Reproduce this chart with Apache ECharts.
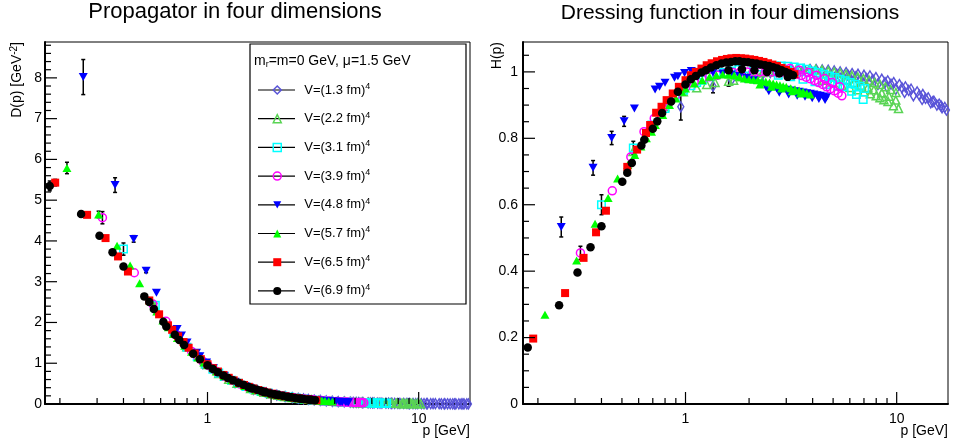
<!DOCTYPE html>
<html><head><meta charset="utf-8">
<script src="https://cdn.jsdelivr.net/npm/echarts@6/dist/echarts.min.js"></script>
<style>html,body{margin:0;padding:0;background:#fff}#c{width:954px;height:448px}</style>
</head><body><div id="c"></div>
<script>
// ---------------- data ----------------
// momenta p [GeV], propagator D(p) [GeV^-2], dressing H(p); errors eD/eH for the first points
const p_13 = [0.95,1.35,1.65,1.90,2.13,2.33,2.52,2.69,2.85,3.00,3.20,3.42,3.65,3.90,4.16,4.44,4.74,5.06,5.40,5.76,6.15,6.56,7.00,7.47,7.97,8.50,9.07,9.68,10.3,11.0,11.7,12.5,13.3,14.1,15.0,15.9,16.9,
  4.90,5.45,6.05,6.70,7.40,8.15,9.0,9.9,10.9,12.0,13.2,14.5,15.5,16.4,17.2,
  5.2,5.9,6.4,7.2,7.7,8.8,9.4,10.6,11.4,12.8,13.7,14.8,16.2];
const H_13 = [0.895,0.957,0.975,0.985,0.990,0.995,0.998,1.000,1.002,1.004,1.005,1.006,1.007,1.007,1.007,1.006,1.005,1.003,1.000,0.998,0.995,0.993,0.990,0.988,0.983,0.978,0.973,0.968,0.962,0.955,0.948,0.940,0.932,0.922,0.912,0.903,0.893,
  0.985,0.982,0.978,0.973,0.968,0.962,0.955,0.947,0.938,0.928,0.917,0.907,0.900,0.892,0.885,
  0.993,0.989,0.985,0.980,0.977,0.968,0.963,0.952,0.944,0.930,0.920,0.910,0.898];
const D_13 = [0.99,0.525,0.358,0.273,0.218,0.183,0.157,0.138,0.123,0.112,0.098,0.086,0.076,0.066,0.058,0.051,0.045,0.039,0.034,0.030,0.026,0.023,0.020,0.018,0.0155,0.0135,0.0118,0.0103,0.0091,0.0079,0.0069,0.0060,0.0053,0.0046,0.0041,0.0036,0.0031,
  0.041,0.033,0.027,0.0217,0.0177,0.0145,0.0118,0.0097,0.0079,0.0064,0.0053,0.0043,0.0037,0.0033,0.0030,
  0.0367,0.0284,0.024,0.0189,0.0165,0.0125,0.0109,0.0085,0.0073,0.0057,0.0049,0.0042,0.0034];
const eD_13 = [0.05, 0.02];
const eH_13 = [0.04, 0.02];

const p_22 = [0.564,0.798,0.977,1.13,1.26,1.38,1.60,1.69,1.85,2.00,2.15,2.32,2.50,2.70,2.90,3.12,3.35,3.60,3.86,4.14,4.43,4.74,5.06,5.40,5.76,6.14,6.54,6.96,7.40,7.86,8.34,8.84,9.37,9.92,
  4.50,5.00,5.50,6.00,6.50,7.00,7.50,8.00,8.33,8.70,9.10,9.65,10.2,
  4.8,5.3,5.8,6.3,6.8,7.3,7.8,8.5,9.2,9.9];
const H_22 = [0.760,0.895,0.940,0.952,0.962,0.968,0.972,0.975,0.985,0.990,0.995,0.998,1.000,1.003,1.005,1.007,1.008,1.009,1.009,1.008,1.006,1.003,1.000,0.997,0.993,0.989,0.985,0.980,0.975,0.968,0.962,0.955,0.947,0.938,
  0.975,0.968,0.960,0.953,0.946,0.940,0.934,0.928,0.922,0.916,0.911,0.898,0.890,
  0.990,0.984,0.976,0.968,0.960,0.953,0.946,0.937,0.927,0.915];
const D_22 = [2.39,1.405,0.985,0.746,0.606,0.508,0.380,0.341,0.288,0.248,0.215,0.185,0.160,0.138,0.120,0.103,0.090,0.078,0.068,0.059,0.051,0.045,0.039,0.034,0.030,0.026,0.023,0.020,0.018,0.016,0.014,0.012,0.011,0.0095,
  0.048,0.039,0.032,0.026,0.022,0.019,0.017,0.0145,0.0133,0.0121,0.011,0.0096,0.0086,
  0.043,0.035,0.029,0.0244,0.0208,0.0179,0.0155,0.013,0.011,0.0093];
const eD_22 = [];
const eH_22 = [0,0,0,0,0,0,0.015];

const p_31 = [0.400,0.566,0.693,0.800,0.894,0.980,1.06,1.13,1.20,1.30,1.40,1.52,1.65,1.79,1.94,2.10,2.27,2.45,2.64,2.84,3.05,3.27,3.50,3.74,3.99,4.25,4.52,4.80,5.09,5.39,5.70,6.02,6.35,6.70,7.05,
  2.75,3.15,3.60,4.10,4.65,5.25,5.57,6.12,6.45,6.94];
const H_31 = [0.600,0.771,0.840,0.890,0.925,0.945,0.958,0.968,0.975,0.985,0.992,0.998,1.003,1.007,1.010,1.013,1.015,1.017,1.018,1.018,1.017,1.015,1.012,1.008,1.003,0.998,0.993,0.988,0.983,0.978,0.973,0.968,0.963,0.957,0.950,
  0.990,0.985,0.978,0.970,0.962,0.957,0.955,0.942,0.932,0.917];
const D_31 = [3.80,2.42,1.75,1.39,1.157,0.984,0.853,0.758,0.677,0.583,0.506,0.432,0.368,0.314,0.268,0.230,0.197,0.169,0.146,0.126,0.109,0.095,0.083,0.072,0.063,0.055,0.049,0.043,0.038,0.034,0.030,0.027,0.024,0.021,0.019,
  0.131,0.099,0.075,0.058,0.044,0.035,0.031,0.025,0.022,0.019];
const eD_31 = [0.15, 0.05];
const eH_31 = [0.03, 0.02];

const p_39 = [0.318,0.450,0.551,0.636,0.711,0.779,0.841,0.900,0.954,1.005,1.10,1.20,1.30,1.42,1.55,1.68,1.82,1.96,2.10,2.25,2.40,2.56,2.72,2.88,3.04,3.20,3.37,3.54,3.72,3.90,4.08,4.27,4.46,4.66,4.86,5.07,5.28,5.50,
  3.12,3.46,3.81,4.17,4.56,4.96,5.38];
const H_39 = [0.455,0.642,0.744,0.820,0.860,0.890,0.910,0.930,0.945,0.955,0.968,0.978,0.985,0.990,0.995,0.998,1.000,1.000,1.000,1.000,1.000,1.000,1.000,1.000,1.000,0.997,0.993,0.989,0.984,0.979,0.974,0.968,0.962,0.955,0.949,0.943,0.936,0.928,
  1.010,1.005,0.998,0.990,0.980,0.968,0.955];
const D_39 = [4.57,3.22,2.45,2.03,1.70,1.47,1.29,1.15,1.04,0.945,0.800,0.679,0.583,0.491,0.414,0.354,0.302,0.260,0.227,0.198,0.174,0.153,0.135,0.121,0.108,0.097,0.087,0.079,0.071,0.064,0.059,0.053,0.048,0.044,0.040,0.037,0.034,0.031,
  0.104,0.084,0.069,0.057,0.047,0.039,0.033];
const eD_39 = [0.15];
const eH_39 = [0.02];

const p_48 = [0.258,0.365,0.447,0.512,0.573,0.718,0.753,0.800,0.887,0.920,0.990,1.065,1.20,1.35,1.50,1.65,1.80,1.95,2.10,2.25,2.40,2.55,2.70,2.85,3.00,3.15,3.30,3.45,3.60,3.75,3.90,4.05,4.20,4.35,4.50,4.65,
  2.48,2.78,3.08,3.38,3.68,3.98,4.28,4.58];
const H_48 = [0.533,0.711,0.801,0.851,0.890,0.947,0.955,0.967,0.982,0.987,0.997,1.003,0.998,0.998,0.995,0.992,0.988,0.982,0.975,0.965,0.955,0.952,0.950,0.948,0.946,0.944,0.942,0.940,0.938,0.936,0.934,0.932,0.930,0.928,0.926,0.924,
  0.942,0.937,0.932,0.928,0.925,0.921,0.918,0.915];
const D_48 = [8.02,5.37,4.05,3.27,2.73,1.84,1.68,1.51,1.26,1.17,1.02,0.885,0.693,0.548,0.442,0.364,0.305,0.258,0.221,0.191,0.166,0.146,0.130,0.117,0.105,0.095,0.086,0.079,0.072,0.066,0.061,0.057,0.053,0.049,0.046,0.043,
  0.153,0.121,0.098,0.081,0.068,0.058,0.050,0.044];
const eD_48 = [0.43, 0.18, 0.08, 0.05];
const eH_48 = [0.03, 0.022, 0.02, 0.015];

const p_57 = [0.216,0.305,0.373,0.430,0.477,0.533,0.575,0.615,0.653,0.690,0.720,0.780,0.840,0.900,0.960,1.00,1.10,1.20,1.30,1.40,1.50,1.60,1.70,1.80,1.90,2.00,2.10,2.20,2.30,2.40,2.50,2.60,2.70,2.80,2.90,3.00,3.15,3.30,3.45,3.60,3.75,3.90,
  2.25,2.55,2.85,3.20,3.50];
const H_57 = [0.269,0.432,0.543,0.620,0.679,0.720,0.750,0.775,0.800,0.820,0.840,0.870,0.900,0.920,0.940,0.950,0.965,0.975,0.985,0.990,0.992,0.992,0.990,0.985,0.980,0.978,0.976,0.975,0.972,0.970,0.968,0.965,0.962,0.960,0.957,0.955,0.951,0.948,0.944,0.940,0.936,0.932,
  0.962,0.955,0.950,0.942,0.935];
const D_57 = [5.79,4.65,3.88,3.40,2.96,2.54,2.27,2.05,1.88,1.72,1.62,1.43,1.28,1.14,1.02,0.95,0.80,0.68,0.58,0.505,0.44,0.388,0.342,0.304,0.272,0.245,0.221,0.201,0.184,0.168,0.155,0.143,0.132,0.122,0.114,0.106,0.096,0.087,0.079,0.073,0.067,0.061,
  0.190,0.147,0.117,0.092,0.076];
const eD_57 = [0.14, 0.08];
const eH_57 = [];

const p_65 = [0.190,0.269,0.329,0.377,0.420,0.530,0.590,0.650,0.680,0.726,0.770,0.814,0.870,0.930,1.00,1.06,1.12,1.19,1.26,1.33,1.41,1.49,1.57,1.65,1.74,1.83,1.92,2.02,2.12,2.23,2.34,2.46,2.58,2.71,2.85,2.99,3.14,3.28];
const H_65 = [0.197,0.334,0.440,0.517,0.582,0.714,0.766,0.816,0.840,0.877,0.895,0.915,0.935,0.955,0.975,0.990,1.000,1.010,1.020,1.026,1.032,1.036,1.039,1.041,1.042,1.041,1.040,1.038,1.036,1.033,1.030,1.026,1.022,1.018,1.012,1.006,1.000,0.993];
const D_65 = [5.43,4.64,4.07,3.62,3.25,2.54,2.20,1.93,1.82,1.66,1.52,1.38,1.24,1.10,0.975,0.880,0.797,0.713,0.643,0.580,0.519,0.467,0.421,0.382,0.344,0.311,0.282,0.254,0.230,0.208,0.188,0.170,0.153,0.139,0.125,0.113,0.101,0.092];
const eD_65 = [0.08];
const eH_65 = [];

const p_69 = [0.179,0.252,0.308,0.355,0.400,0.502,0.530,0.557,0.618,0.638,0.700,0.735,0.775,0.855,0.920,1.00,1.06,1.12,1.19,1.25,1.32,1.40,1.48,1.56,1.64,1.72,1.80,1.89,1.98,2.07,2.17,2.27,2.38,2.49,2.60,2.72,2.85,2.98,3.10,3.23,
  1.60,1.85,2.12,2.43,2.78,3.05];
const H_69 = [0.170,0.297,0.396,0.472,0.535,0.669,0.696,0.726,0.778,0.796,0.829,0.851,0.876,0.911,0.940,0.962,0.978,0.988,0.998,1.005,1.013,1.020,1.025,1.028,1.030,1.032,1.032,1.030,1.029,1.027,1.025,1.022,1.020,1.018,1.014,1.010,1.005,1.000,0.995,0.990,
  1.005,1.008,1.005,1.000,0.995,0.985];
const D_69 = [5.35,4.66,4.13,3.72,3.37,2.64,2.50,2.33,2.02,1.90,1.70,1.57,1.45,1.23,1.10,0.95,0.86,0.78,0.70,0.64,0.58,0.52,0.47,0.42,0.38,0.35,0.32,0.29,0.26,0.24,0.22,0.20,0.18,0.165,0.150,0.137,0.124,0.113,0.104,0.095,
  0.39,0.295,0.225,0.17,0.13,0.106];
const eD_69 = [0.12];
const eH_69 = [];

// axis ranges and ticks
const X_MIN = 0.17, X_MAX = 17.5;
const D_MAX = 8.88, H_MAX = 1.09;
const xMajorTicks = [1, 10];
const xTickLabels = ['1', '10'];
const xMinorTicks = [0.2,0.3,0.4,0.5,0.6,0.7,0.8,0.9,2,3,4,5,6,7,8,9];
const dMajorTicks = [0,1,2,3,4,5,6,7,8];
const dTickLabels = ['0','1','2','3','4','5','6','7','8'];
const hMajorTicks = [0,0.2,0.4,0.6,0.8,1.0];
const hTickLabels = ['0','0.2','0.4','0.6','0.8','1'];

// ---------------- chart ----------------
const FONT = '"Liberation Sans", Arial, Helvetica, sans-serif';
const DOWN_TRI = 'path://M0,0L10,0L5,9Z';
const sets = [
  {name:'V=(1.3 fm)^4', p:p_13, D:D_13, H:H_13, eD:eD_13, eH:eH_13, st:{color:'#5954d8', symbol:'diamond', size:[6,10], open:true}},
  {name:'V=(2.2 fm)^4', p:p_22, D:D_22, H:H_22, eD:eD_22, eH:eH_22, st:{color:'#59d454', symbol:'triangle', size:[8,8], open:true}},
  {name:'V=(3.1 fm)^4', p:p_31, D:D_31, H:H_31, eD:eD_31, eH:eH_31, st:{color:'#00ffff', symbol:'rect', size:7.5, open:true}},
  {name:'V=(3.9 fm)^4', p:p_39, D:D_39, H:H_39, eD:eD_39, eH:eH_39, st:{color:'#ff00ff', symbol:'circle', size:8, open:true}},
  {name:'V=(4.8 fm)^4', p:p_48, D:D_48, H:H_48, eD:eD_48, eH:eH_48, st:{color:'#0000ff', symbol:'triangle', size:[9,8], rotate:180, icon:DOWN_TRI}},
  {name:'V=(5.7 fm)^4', p:p_57, D:D_57, H:H_57, eD:eD_57, eH:eH_57, st:{color:'#00ff00', symbol:'triangle', size:[9,8]}},
  {name:'V=(6.5 fm)^4', p:p_65, D:D_65, H:H_65, eD:eD_65, eH:eH_65, st:{color:'#ff0000', symbol:'rect', size:8}},
  {name:'V=(6.9 fm)^4', p:p_69, D:D_69, H:H_69, eD:eD_69, eH:eH_69, st:{color:'#000000', symbol:'circle', size:8.5}}
];

function minorBetween(majors, step, n, maxV) {
  const out = [];
  majors.forEach(m => { for (let k = 1; k < n; k++) { const v = +(m + k * step).toFixed(4); if (v < maxV) out.push(v); } });
  return out;
}
const dMinorTicks = minorBetween(dMajorTicks, 0.2, 5, D_MAX);
const hMinorTicks = minorBetween(hMajorTicks, 0.05, 4, H_MAX);

function tickData(yMaj, yMin) {
  const d = [];
  xMajorTicks.forEach(v => d.push([v, 0, 0]));
  xMinorTicks.forEach(v => d.push([v, 0, 1]));
  yMaj.forEach(v => d.push([X_MIN, v, 2]));
  yMin.forEach(v => d.push([X_MIN, v, 3]));
  return d;
}
function renderTick(params, api) {
  const x = api.value(0), y = api.value(1), k = api.value(2);
  const pt = api.coord([x, y]);
  let shape;
  if (k < 2) { const L = k === 0 ? 12 : 6; shape = {x1: pt[0], y1: pt[1], x2: pt[0], y2: pt[1] - L}; }
  else { const L = k === 2 ? 12 : 6; shape = {x1: pt[0], y1: pt[1], x2: pt[0] + L, y2: pt[1]}; }
  return {type: 'line', shape, style: {stroke: '#000', lineWidth: 1.2}};
}
function renderErr(params, api) {
  const x = api.value(0), y = api.value(1), e = api.value(2);
  const a = api.coord([x, y + e]), b = api.coord([x, y - e]);
  const c = 2, st = {stroke: '#000', lineWidth: 1.5};
  return {type: 'group', children: [
    {type: 'line', shape: {x1: a[0], y1: a[1], x2: b[0], y2: b[1]}, style: st},
    {type: 'line', shape: {x1: a[0] - c, y1: a[1], x2: a[0] + c, y2: a[1]}, style: st},
    {type: 'line', shape: {x1: b[0] - c, y1: b[1], x2: b[0] + c, y2: b[1]}, style: st}
  ]};
}

const errD = [], errH = [];
sets.forEach(s => {
  s.eD.forEach((e, i) => { if (e > 0) errD.push([s.p[i], s.D[i], e]); });
  s.eH.forEach((e, i) => { if (e > 0) errH.push([s.p[i], s.H[i], e]); });
});

function markStyle(st) {
  return st.open ? {color: 'rgba(255,255,255,0)', borderColor: st.color, borderWidth: 1.5, opacity: 1}
                 : {color: st.color, opacity: 1};
}
const series = [];
[errD, errH].forEach((d, g) => series.push({type: 'custom', xAxisIndex: g, yAxisIndex: g, z: 2, silent: true,
  renderItem: renderErr, data: d, clip: false}));
sets.forEach(s => {
  [0, 1].forEach(g => {
    const ys = g === 0 ? s.D : s.H;
    series.push({
      type: 'scatter', name: s.name, xAxisIndex: g, yAxisIndex: g, z: 3,
      symbol: s.st.symbol, symbolSize: s.st.size, symbolRotate: s.st.rotate || 0,
      itemStyle: markStyle(s.st),
      emphasis: {disabled: true}, silent: true,
      data: s.p.map((v, i) => [v, ys[i]])
    });
  });
});
series.push({type: 'custom', xAxisIndex: 0, yAxisIndex: 0, z: 5, silent: true, renderItem: renderTick, data: tickData(dMajorTicks, dMinorTicks), clip: false});
series.push({type: 'custom', xAxisIndex: 1, yAxisIndex: 1, z: 5, silent: true, renderItem: renderTick, data: tickData(hMajorTicks, hMinorTicks), clip: false});

function near(v, arr) { return arr.findIndex(t => Math.abs(t - v) < 1e-6 * Math.max(1, Math.abs(t))); }
function xAxisCfg(g) {
  return {type: 'log', logBase: 10, gridIndex: g, min: X_MIN, max: X_MAX,
    axisLine: {show: true, onZero: false, lineStyle: {color: '#000', width: 2}},
    axisTick: {show: false}, minorTick: {show: false}, splitLine: {show: false},
    axisLabel: {show: true, interval: 0, fontSize: 14, fontFamily: FONT, color: '#000', margin: 8,
      formatter: v => { const i = near(v, xMajorTicks); return i >= 0 ? xTickLabels[i] : ''; }}};
}
function yAxisCfg(g, maxV, majors, labels, margin) {
  return {type: 'value', gridIndex: g, min: 0, max: maxV, interval: g === 0 ? 1 : 0.2,
    axisLine: {show: true, onZero: false, lineStyle: {color: '#000', width: 2}},
    axisTick: {show: false}, minorTick: {show: false}, splitLine: {show: false},
    axisLabel: {show: true, fontSize: 14, fontFamily: FONT, color: '#000', margin: margin,
      formatter: v => { const i = near(v, majors); return i >= 0 ? labels[i] : ''; }}};
}

const legendY0 = 90, legendStep = 28.7;
const graphics = [
  {type: 'text', x: 235, y: 12, style: {text: 'Propagator in four dimensions', fontSize: 22, fontFamily: FONT, fill: '#000', align: 'center', verticalAlign: 'middle', textAlign: 'center', textVerticalAlign: 'middle'}},
  {type: 'text', x: 730, y: 13, style: {text: 'Dressing function in four dimensions', fontSize: 21, fontFamily: FONT, fill: '#000', align: 'center', verticalAlign: 'middle', textAlign: 'center', textVerticalAlign: 'middle'}},
  {type: 'text', x: 17, y: 42, rotation: Math.PI / 2, style: {text: '{t|D(p) [GeV}{s|-2}{t|]}', align: 'right', verticalAlign: 'middle', textAlign: 'right', textVerticalAlign: 'middle',
    rich: {t: {fontSize: 14, fontFamily: FONT, fill: '#000', lineHeight: 16}, s: {fontSize: 10, fontFamily: FONT, fill: '#000', lineHeight: 8, verticalAlign: 'top'}}}},
  {type: 'text', x: 497, y: 42, rotation: Math.PI / 2, style: {text: 'H(p)', fontSize: 14, fontFamily: FONT, fill: '#000', align: 'right', verticalAlign: 'middle', textAlign: 'right', textVerticalAlign: 'middle'}},
  {type: 'text', x: 470, y: 431, style: {text: 'p [GeV]', fontSize: 14, fontFamily: FONT, fill: '#000', align: 'right', verticalAlign: 'middle', textAlign: 'right', textVerticalAlign: 'middle'}},
  {type: 'text', x: 948, y: 431, style: {text: 'p [GeV]', fontSize: 14, fontFamily: FONT, fill: '#000', align: 'right', verticalAlign: 'middle', textAlign: 'right', textVerticalAlign: 'middle'}},
  {type: 'rect', z: 1, shape: {x: 250, y: 44, width: 216, height: 260}, style: {fill: 'none', stroke: '#000', lineWidth: 1.2}},
  {type: 'text', x: 254, y: 61, style: {text: '{t|m}{b|r}{t|=m=0 GeV, μ=1.5 GeV}', align: 'left', verticalAlign: 'middle', textAlign: 'left', textVerticalAlign: 'middle',
    rich: {t: {fontSize: 14, fontFamily: FONT, fill: '#000', lineHeight: 16}, b: {fontSize: 9, fontFamily: FONT, fill: '#000', lineHeight: 8, verticalAlign: 'bottom'}}}}
];
sets.forEach((s, i) => graphics.push({type: 'line', z: 1, shape: {x1: 258, y1: legendY0 + i * legendStep, x2: 295, y2: legendY0 + i * legendStep}, style: {stroke: '#000', lineWidth: 1.2}}));

const chart = echarts.init(document.getElementById('c'), null, {renderer: 'canvas'});
chart.setOption({
  animation: false,
  backgroundColor: '#fff',
  grid: [
    {left: 45, top: 42, width: 425, height: 362, show: true, borderColor: '#000', borderWidth: 1, backgroundColor: 'transparent', containLabel: false, outerBoundsMode: 'none'},
    {left: 523, top: 42, width: 425, height: 362, show: true, borderColor: '#000', borderWidth: 1, backgroundColor: 'transparent', containLabel: false, outerBoundsMode: 'none'}
  ],
  xAxis: [xAxisCfg(0), xAxisCfg(1)],
  yAxis: [yAxisCfg(0, D_MAX, dMajorTicks, dTickLabels, 3), yAxisCfg(1, H_MAX, hMajorTicks, hTickLabels, 5)],
  legend: {
    orient: 'vertical', left: 272.5, top: legendY0 - 8, itemWidth: 8, itemHeight: 8, itemGap: legendStep - 16,
    padding: 0, selectedMode: false, symbolKeepAspect: true,
    data: sets.map(s => {
      const d = {name: s.name, itemStyle: markStyle(s.st)};
      if (s.st.icon) d.icon = s.st.icon;
      return d;
    }),
    formatter: name => '{t|' + name.replace('^4', '') + '}{s|4}',
    textStyle: {fontSize: 13, fontFamily: FONT, color: '#000', lineHeight: 16, padding: [0, 0, 0, 18],
      rich: {t: {fontSize: 13, fontFamily: FONT, color: '#000', lineHeight: 16},
             s: {fontSize: 9, fontFamily: FONT, color: '#000', lineHeight: 6, verticalAlign: 'top'}}}
  },
  graphic: {elements: graphics},
  series: series
});
</script>
</body></html>
